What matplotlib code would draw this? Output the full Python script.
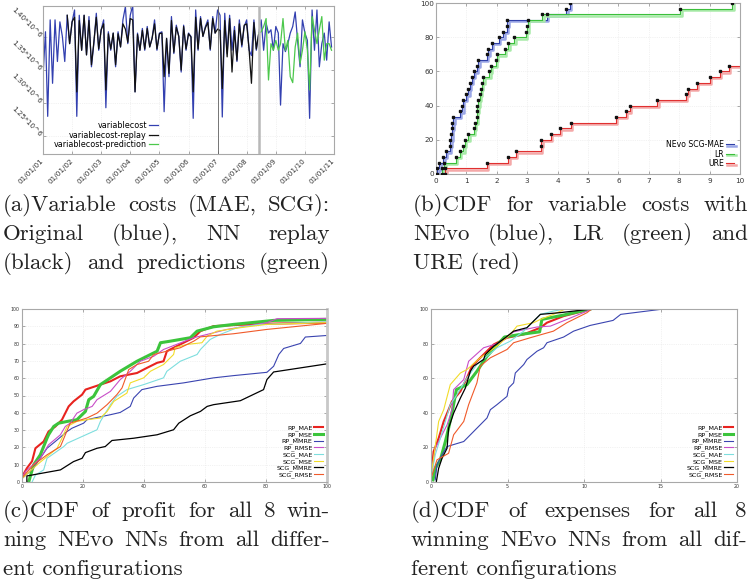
import matplotlib
matplotlib.use('Agg')
import matplotlib.pyplot as plt
import matplotlib.patheffects as pe
import pandas as pd

# ---------------- data: (a) variable costs, monthly, in 1e6 ----------------
months = pd.date_range('2001-01-01', periods=120, freq='MS')

variablecost = [
    1.340, 1.408, 1.280, 1.426, 1.330, 1.426, 1.363, 1.423, 1.401, 1.363, 1.433, 1.390,
    1.423, 1.441, 1.280, 1.433, 1.380, 1.433, 1.373, 1.431, 1.355, 1.390, 1.436, 1.380,
    1.411, 1.426, 1.293, 1.408, 1.380, 1.406, 1.355, 1.408, 1.385, 1.426, 1.446, 1.390,
    1.433, 1.448, 1.317, 1.406, 1.380, 1.413, 1.380, 1.416, 1.385, 1.398, 1.426, 1.380,
    1.406, 1.408, 1.287, 1.398, 1.340, 1.431, 1.375, 1.418, 1.401, 1.347, 1.418, 1.380,
    1.406, 1.401, 1.277, 1.441, 1.380, 1.431, 1.401, 1.416, 1.426, 1.380, 1.431, 1.406,
    1.441, 1.433, 1.279, 1.436, 1.375, 1.433, 1.380, 1.416, 1.363, 1.426, 1.385, 1.416,
    1.426, 1.380, 1.372, 1.426, 1.380, 1.406, 1.426, 1.380, 1.421, 1.406, 1.411, 1.380,
    1.416, 1.406, 1.297, 1.390, 1.378, 1.390, 1.406, 1.416, 1.438, 1.395, 1.355, 1.426,
    1.406, 1.395, 1.277, 1.441, 1.380, 1.441, 1.355, 1.390, 1.406, 1.365, 1.423, 1.385,
]

# replay covers months 10..89
replay_start = 10
variablecost_replay = [
    1.433, 1.390, 1.423, 1.430, 1.317, 1.425, 1.380, 1.433, 1.373, 1.425, 1.358, 1.392, 1.430, 1.382,
    1.411, 1.420, 1.320, 1.405, 1.382, 1.406, 1.358, 1.405, 1.385, 1.420, 1.412, 1.392,
    1.428, 1.426, 1.317, 1.404, 1.380, 1.410, 1.382, 1.413, 1.385, 1.398, 1.420, 1.382,
    1.405, 1.406, 1.340, 1.398, 1.345, 1.425, 1.377, 1.415, 1.401, 1.350, 1.416, 1.382,
    1.405, 1.400, 1.317, 1.430, 1.382, 1.428, 1.401, 1.414, 1.422, 1.382, 1.428, 1.406,
    1.412, 1.410, 1.322, 1.425, 1.370, 1.428, 1.347, 1.410, 1.365, 1.420, 1.388, 1.418,
    1.420, 1.380, 1.330, 1.422, 1.382, 1.406,
]

# prediction covers months 89..119
pred_start = 89
variablecost_prediction = [
    1.406, 1.408, 1.416, 1.428, 1.335, 1.390, 1.380, 1.395, 1.380, 1.390, 1.428,
    1.380, 1.395, 1.340, 1.331, 1.385, 1.406, 1.360, 1.380, 1.408, 1.380,
    1.320, 1.431, 1.411, 1.390, 1.411, 1.431, 1.365, 1.390, 1.390, 1.380,
]

year_ticks = pd.date_range('2001-01-01', '2011-01-01', freq='YS')
a_yticks = [1.25e6, 1.30e6, 1.35e6, 1.40e6]
a_ylabels = ['1.25*10^6', '1.30*10^6', '1.35*10^6', '1.40*10^6']

# ---------------- data: (b) CDF of variable cost errors (30 samples) ----------------
nevo_x = [0.04, 0.11, 0.24, 0.33, 0.46, 0.47, 0.50, 0.51, 0.53, 0.57, 0.79, 0.87, 0.89,
          0.99, 1.06, 1.12, 1.18, 1.25, 1.34, 1.39, 1.67, 1.72, 1.83, 2.07, 2.21, 2.32,
          2.35, 3.64, 4.28, 4.41]
lr_x = [0.19, 0.27, 0.66, 0.79, 0.90, 0.95, 1.06, 1.25, 1.28, 1.34, 1.35, 1.36, 1.39,
        1.45, 1.48, 1.50, 1.56, 1.75, 1.80, 1.97, 2.00, 2.27, 2.38, 2.57, 2.95, 3.00,
        3.02, 3.50, 8.03, 9.75]
ure_x = [0.30, 1.67, 2.38, 2.63, 3.44, 3.47, 3.77, 4.08, 4.44, 5.91, 6.24, 6.38, 7.28,
         8.22, 8.28, 8.57, 9.01, 9.34, 9.64]
n_samples = 30

# ---------------- data: (c) CDF of profit ----------------
c_labels = ['RP_MAE', 'RP_MSE', 'RP_MMRE', 'RP_RMSE', 'SCG_MAE', 'SCG_MSE', 'SCG_MMRE', 'SCG_RMSE']
c_rp_mae_x = [0, 1.6, 3.3, 4.4, 7.1, 8.7, 10.9, 13.1, 15.3, 16.9, 19.7, 20.8, 25.7, 29, 32.2, 37.7, 41, 44.3, 46.4, 47.5, 49.7, 54, 56.3, 58.5, 62.8, 69.4, 80.3, 100]
c_rp_mae_y = [3, 8, 12, 19.5, 23.4, 29.2, 32, 36, 43.7, 46.6, 50.5, 53.4, 56.3, 58.2, 61.1, 63, 66, 68.9, 69.8, 75.6, 77.6, 81.4, 83.4, 87.2, 90.1, 90.7, 91.5, 92.1]
c_rp_mse_x = [2.2, 3.8, 6, 8.2, 8.7, 10.4, 12, 14.8, 18, 20.8, 21.9, 23.5, 25.7, 29, 32.2, 37.7, 41, 44.3, 45.4, 48.6, 55.2, 57.4, 62.8, 69.4, 82.5, 100]
c_rp_mse_y = [0, 9.9, 15.7, 25.3, 27.3, 32.1, 34, 35, 36, 40.8, 47.6, 49.5, 56.3, 60.2, 64, 69.8, 72.7, 75.6, 80.5, 81.4, 83.4, 87.2, 89.7, 91.1, 93.4, 94]
c_rp_mmre_x = [0, 3.8, 8.2, 10.9, 14.8, 16.4, 20.2, 21.3, 24.6, 29, 32.2, 35.5, 36.6, 39.3, 44.3, 53, 62.8, 69.4, 80.3, 82.5, 84.2, 85.8, 91.3, 92.9, 100]
c_rp_mmre_y = [2, 8, 19.5, 23.4, 29.2, 31.1, 34, 36, 37.3, 38.9, 40.2, 43.7, 48.5, 53.4, 55.3, 57.3, 60.2, 61.5, 63.4, 66.9, 73.7, 77.2, 80.1, 83.8, 84.7]
c_rp_rmse_x = [0, 1.1, 6, 8.7, 12.6, 14.2, 15.8, 18, 20.2, 23, 24.6, 29, 32.2, 35.5, 38.8, 43.2, 46.4, 56.3, 60.7, 67.2, 80.3, 83.6, 100]
c_rp_rmse_y = [2.5, 6, 13.7, 21.5, 27.3, 32.1, 34, 39.8, 41.8, 43.7, 47.6, 52.4, 59.2, 64, 69.8, 72.7, 76.6, 83.4, 85.3, 88.2, 92.1, 94.4, 94.6]
c_scg_mae_x = [3.3, 4.4, 7.1, 8.2, 13.7, 14.8, 24.6, 25.7, 29, 31.1, 34.4, 39.9, 46.4, 47.5, 51.9, 57.4, 58.5, 61.7, 65, 70.5, 78.1, 100]
c_scg_mae_y = [0, 4, 7, 13.7, 20.5, 22.4, 30.2, 35, 44.7, 49.5, 53.4, 56.3, 60.2, 64, 69.8, 73.7, 76.6, 82.4, 85.3, 89.2, 91.1, 92.6]
c_scg_mse_x = [0, 4.9, 11.5, 13.1, 14.8, 18, 21.3, 25.7, 27.9, 30.1, 34.4, 35.5, 39.9, 42.1, 46.4, 49.7, 50.2, 54, 59, 60.7, 63.9, 71.6, 80.3, 100]
c_scg_mse_y = [2, 9.9, 19.5, 25.3, 32.1, 35, 36, 37, 40.8, 46.6, 51.4, 57.3, 60.2, 64, 67.9, 73.7, 77.6, 79.5, 80.5, 84.3, 87.2, 89.2, 91.1, 92.1]
c_scg_mmre_x = [1.6, 1.6, 12.6, 16.9, 19.7, 20.8, 24.6, 27.3, 29.5, 36.6, 44.3, 49.7, 51.4, 55.2, 58.5, 60.7, 62.8, 71.6, 79.2, 80.3, 82.5, 100]
c_scg_mmre_y = [0, 3.5, 7, 11.8, 13.7, 17, 19.5, 20.5, 24, 25.3, 27.3, 30.2, 34, 38.3, 40.8, 43.7, 44.7, 47, 53.4, 59.2, 63.6, 68.3]
c_scg_rmse_x = [0, 3.8, 8.2, 12.6, 15.8, 21.3, 24.6, 27.9, 31.1, 32.8, 35, 37.7, 41.5, 43.2, 51.9, 56.3, 58.5, 69.4, 80.3, 100]
c_scg_rmse_y = [2.5, 9.9, 15.7, 20.5, 34, 37, 39.8, 44.7, 50.5, 54.4, 65, 67.9, 69.8, 73.7, 77.6, 81.4, 83.9, 85.7, 88.2, 91.7]

# ---------------- data: (d) CDF of expenses ----------------
d_rp_mae_x = [0, 0.17, 0.5, 0.83, 1.15, 1.37, 1.92, 2.35, 2.68, 3.22, 4.1, 4.97, 6.06, 7.15, 7.58, 8.67, 10.5]
d_rp_mae_y = [2, 17.6, 25.3, 35, 41.8, 46.6, 52.4, 60.2, 67, 71.8, 79.5, 83.4, 85.3, 89.2, 92.1, 95.9, 100]
d_rp_mse_x = [0.13, 0.28, 0.61, 0.94, 1.15, 1.37, 1.66, 2.35, 3.0, 3.66, 4.8, 5.84, 7.1, 7.25, 8.67, 10.4]
d_rp_mse_y = [1.2, 7.9, 12.8, 23.4, 31.1, 39.8, 53.4, 56.3, 64, 72.7, 83.8, 85.3, 86.8, 94, 96.5, 100]
d_rp_mmre_x = [0.28, 0.39, 0.72, 1.05, 2.14, 3.0, 3.66, 3.88, 4.31, 4.97, 5.08, 5.4, 5.51, 6.06, 6.27, 6.93, 7.36, 7.58, 8.67, 9.32, 10.4, 11.9, 12.4, 15.2]
d_rp_mmre_y = [1.2, 9.9, 15.7, 20.5, 23.4, 31.1, 37, 41.8, 44.7, 49.5, 54.4, 57.3, 63, 67.9, 70.8, 75.6, 77.6, 80.5, 83.8, 87.2, 90.5, 93.4, 96.9, 100]
d_rp_rmse_x = [0, 0.28, 0.61, 1.05, 1.37, 1.48, 2.14, 2.46, 3.44, 4.53, 5.4, 6.93, 7.8, 8.89, 10.2, 10.5]
d_rp_rmse_y = [3, 19.5, 25.3, 33, 41.8, 53.4, 59.2, 69.8, 77.6, 80.5, 86.8, 89.6, 90.1, 94, 98.8, 100]
d_scg_mae_x = [0, 0.28, 0.61, 0.94, 1.26, 1.7, 2.35, 3.0, 3.66, 4.31, 5.18, 6.06, 6.71, 7.15, 8.0, 8.78]
d_scg_mae_y = [2, 15.7, 25.3, 35, 44.7, 50.5, 60.2, 67.9, 72.7, 77.6, 81.4, 87.2, 93, 96.9, 98.8, 100]
d_scg_mse_x = [0, 0.17, 0.5, 0.83, 1.26, 1.92, 2.35, 3.22, 4.31, 5.18, 5.62, 6.71, 7.15, 8.0, 8.78]
d_scg_mse_y = [4, 13.7, 35, 41.8, 56.3, 63, 65, 71.8, 78.5, 85.3, 90.1, 92.1, 94, 96.9, 100]
d_scg_mmre_x = [0.35, 0.5, 0.72, 1.05, 1.15, 1.48, 1.92, 2.25, 2.57, 2.79, 3.44, 3.55, 4.1, 4.86, 5.4, 6.27, 7.15, 8.45, 10.5]
d_scg_mmre_y = [0.2, 7.9, 13.7, 19.5, 31.1, 39.8, 48.5, 54.4, 64, 67, 70.8, 73.7, 78.5, 83.4, 87.2, 89.2, 96.9, 97.9, 100]
d_scg_rmse_x = [0, 0.39, 1.15, 1.48, 2.14, 2.46, 3.0, 3.22, 3.88, 4.97, 5.4, 6.49, 8.0, 8.89, 10.2, 10.5]
d_scg_rmse_y = [2, 12.8, 16.6, 27.3, 35, 44.7, 57.3, 67, 71.8, 76.6, 80.5, 83.4, 87.2, 92.1, 97.9, 100]

series_colors = ['#e8231f', '#3cc43c', '#3a44b0', '#c84ec8', '#7ddede', '#f2dc2a', '#000000', '#f05a2a']
series_widths = [1.5, 2.2, 0.8, 0.8, 0.8, 0.8, 0.9, 0.8]

W, H = 753, 584
fig = plt.figure(figsize=(W / 100, H / 100), dpi=100)

GRID = dict(color='#e6e6e6', linewidth=0.5, linestyle=':')
SPINE = '#a8a8a8'


def axes_px(left, top, right, bottom):
    return fig.add_axes([left / W, 1 - bottom / H, (right - left) / W, (bottom - top) / H])


def style(ax, size):
    for s in ax.spines.values():
        s.set_color(SPINE)
        s.set_linewidth(0.8)
    ax.tick_params(direction='in', length=2, width=0.5, colors='#888888',
                   labelcolor='#333333', labelsize=size, top=True, right=True, pad=1.5)
    ax.grid(True, **GRID)
    ax.set_axisbelow(True)


# ---------------- (a) ----------------
axa = axes_px(43, 6, 334, 154)
style(axa, 5.2)
axa.plot(months, [v * 1e6 for v in variablecost], color='#3340b0', lw=0.9, label='variablecost', zorder=2)
axa.plot(months[replay_start:replay_start + len(variablecost_replay)],
         [v * 1e6 for v in variablecost_replay], color='#111111', lw=0.9,
         label='variablecost-replay', zorder=3)
axa.plot(months[pred_start:pred_start + len(variablecost_prediction)],
         [v * 1e6 for v in variablecost_prediction], color='#4cc84c', lw=0.9,
         label='variablecost-prediction', zorder=4)
axa.axvline(pd.Timestamp('2007-01-01'), color='#606060', lw=0.6, zorder=5)
axa.axvline(months[pred_start], color='#b8b8b8', lw=1.8, zorder=5)
axa.set_xlim(pd.Timestamp('2001-01-01'), pd.Timestamp('2011-01-01'))
axa.set_ylim(1.223e6, 1.447e6)
axa.set_xticks(year_ticks)
axa.set_xticklabels([d.strftime('%d/%m/%y') for d in year_ticks], rotation=45,
                    ha='right', va='center', rotation_mode='anchor')
axa.set_yticks(a_yticks)
axa.set_yticklabels(a_ylabels, rotation=-45, ha='right', va='center', rotation_mode='anchor')
axa.tick_params(axis='x', pad=4)
axa.legend(loc='lower left', bbox_to_anchor=(0.015, -0.01), markerfirst=False, frameon=False,
           fontsize=5.8, handlelength=1.1, handletextpad=0.3, labelspacing=0.05, borderpad=0.3)

# ---------------- (b) ----------------
axb = axes_px(436, 3, 740, 174)
style(axb, 5.2)
axb.tick_params(axis='x', pad=3)


def cdf_line(ax, xs, color, light, label, xend):
    ys = [(i + 1) * 100.0 / n_samples for i in range(len(xs))]
    sx = [xs[0]] + xs + [xend]
    sy = [0] + ys + [ys[-1]]
    ax.plot(sx, sy, drawstyle='steps-post', color=color, lw=0.8, label=label,
            path_effects=[pe.SimpleLineShadow(offset=(1.0, -1.0), shadow_color=light, alpha=1.0,
                                              linewidth=1.8), pe.Normal()])
    ax.plot([xs[0]] + xs, [0] + ys, 's', color='#111111', ms=1.5, zorder=5)


cdf_line(axb, nevo_x, '#3040a8', '#9aa6e6', 'NEvo SCG-MAE', nevo_x[-1])
cdf_line(axb, lr_x, '#3cbf3c', '#a8eaa8', 'LR', lr_x[-1])
cdf_line(axb, ure_x, '#e03030', '#f4a8a8', 'URE', 10.5)
axb.set_xlim(0, 10)
axb.set_ylim(0, 100)
axb.set_xticks(range(0, 11))
axb.set_yticks(range(0, 101, 20))
axb.legend(loc='lower right', bbox_to_anchor=(1.0, 0.0), markerfirst=False, frameon=False,
           fontsize=5.6, handlelength=1.1, handletextpad=0.2, labelspacing=0.08, borderpad=0.25)

# ---------------- (c) ----------------
axc = axes_px(22, 309, 327, 482)
style(axc, 3.4)
axc.spines['right'].set_color('#c8c8c8')
axc.spines['right'].set_linewidth(2)
c_data = [(c_rp_mae_x, c_rp_mae_y), (c_rp_mse_x, c_rp_mse_y), (c_rp_mmre_x, c_rp_mmre_y),
          (c_rp_rmse_x, c_rp_rmse_y), (c_scg_mae_x, c_scg_mae_y), (c_scg_mse_x, c_scg_mse_y),
          (c_scg_mmre_x, c_scg_mmre_y), (c_scg_rmse_x, c_scg_rmse_y)]
for (xs, ys), lab, col, lw in zip(c_data, c_labels, series_colors, series_widths):
    axc.plot(xs, ys, color=col, lw=lw, label=lab)
axc.set_xlim(0, 100)
axc.set_ylim(0, 100)
axc.set_xticks(range(0, 101, 20))
axc.set_yticks(range(0, 101, 10))
axc.legend(loc='lower right', markerfirst=False, frameon=False, fontsize=4.6,
           handlelength=1.4, handletextpad=0.2, labelspacing=0.08, borderpad=0.15)

# ---------------- (d) ----------------
axd = axes_px(431, 309, 737, 482)
style(axd, 3.4)
d_data = [(d_rp_mae_x, d_rp_mae_y), (d_rp_mse_x, d_rp_mse_y), (d_rp_mmre_x, d_rp_mmre_y),
          (d_rp_rmse_x, d_rp_rmse_y), (d_scg_mae_x, d_scg_mae_y), (d_scg_mse_x, d_scg_mse_y),
          (d_scg_mmre_x, d_scg_mmre_y), (d_scg_rmse_x, d_scg_rmse_y)]
for (xs, ys), lab, col, lw in zip(d_data, c_labels, series_colors, series_widths):
    axd.plot(xs, ys, color=col, lw=lw, label=lab)
axd.set_xlim(0, 20)
axd.set_ylim(0, 100)
axd.set_xticks(range(0, 21, 5))
axd.set_yticks(range(0, 101, 20))
axd.legend(loc='lower right', markerfirst=False, frameon=False, fontsize=4.6,
           handlelength=1.4, handletextpad=0.2, labelspacing=0.08, borderpad=0.15)

# ---------------- captions (justified like LaTeX subcaptions) ----------------
renderer = fig.canvas.get_renderer()
CAP = dict(family=['cmr10', 'DejaVu Serif'], fontsize=16.5, color='#222222', va='baseline')


def caption(lines, x0, x1, base, step):
    for i, (txt, justify) in enumerate(lines):
        y = 1 - (base + i * step) / H
        if not justify:
            fig.text(x0 / W, y, txt, ha='left', **CAP)
            continue
        words = txt.split(' ')
        texts = [fig.text(0, y, w, ha='left', **CAP) for w in words]
        widths = [t.get_window_extent(renderer).width for t in texts]
        gap = (x1 - x0 - sum(widths)) / max(len(words) - 1, 1)
        x = x0
        for t, w in zip(texts, widths):
            t.set_x(x / W)
            x += w + gap


caption([('(a)Variable costs (MAE, SCG):', True),
         ('Original (blue), NN replay', True),
         ('(black) and predictions (green)', True)], 3, 330, 211, 29)
caption([('(b)CDF for variable costs with', True),
         ('NEvo (blue), LR (green) and', True),
         ('URE (red)', False)], 413, 748, 211, 29)
caption([('(c)CDF of profit for all 8 win-', True),
         ('ning NEvo NNs from all differ-', True),
         ('ent configurations', False)], 3, 330, 517, 29)
caption([('(d)CDF of expenses for all 8', True),
         ('winning NEvo NNs from all dif-', True),
         ('ferent configurations', False)], 411, 747, 517, 29)

fig.savefig('out.png', dpi=100)
